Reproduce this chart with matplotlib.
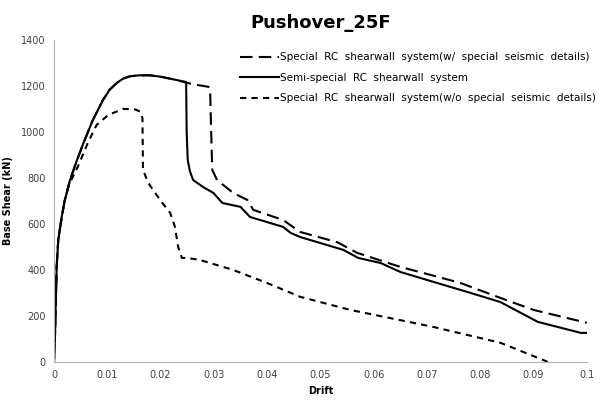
import numpy as np
import matplotlib
matplotlib.use('Agg')
from matplotlib import pyplot as plt

# drift / base shear
semi_x = [0, 0.0002, 0.0005, 0.0008, 0.00145, 0.002, 0.003, 0.0042, 0.0055, 0.0073, 0.0092,
          0.0105, 0.0118, 0.013, 0.0143, 0.016, 0.018, 0.02, 0.0225, 0.0248, 0.0249, 0.0251,
          0.0255, 0.0261, 0.028, 0.0299, 0.0316, 0.035, 0.0368, 0.043, 0.0444, 0.0462,
          0.0543, 0.0571, 0.0613, 0.065, 0.0712, 0.0776, 0.0838, 0.0908, 0.0989, 0.1]
semi_y = [0, 126, 413, 530, 630, 700, 790, 870, 950, 1052, 1139,
          1185, 1213, 1232, 1242, 1246, 1246, 1240, 1228, 1217, 1000, 878,
          830, 791, 760, 735, 691, 674, 630, 587, 561, 543,
          487, 452, 430, 391, 348, 304, 260, 174, 126, 126]

sp_x = [0, 0.0002, 0.0005, 0.0008, 0.00145, 0.002, 0.003, 0.0042, 0.0055, 0.0073, 0.0092,
        0.0105, 0.0118, 0.013, 0.0143, 0.016, 0.018, 0.02, 0.0225, 0.025, 0.0269, 0.029,
        0.0293, 0.0295, 0.0297, 0.0306, 0.0336, 0.0363, 0.0374, 0.043, 0.0462, 0.0532,
        0.0569, 0.065, 0.0707, 0.0763, 0.0838, 0.09, 0.1]
sp_y = [0, 126, 413, 530, 630, 700, 790, 870, 950, 1052, 1139,
        1185, 1213, 1232, 1242, 1246, 1246, 1240, 1228, 1213, 1204, 1196,
        1185, 1000, 835, 791, 735, 704, 661, 617, 565, 520,
        474, 413, 378, 343, 278, 226, 170]

wo_x = [0, 0.0002, 0.0005, 0.0008, 0.00145, 0.002, 0.0028, 0.0045, 0.0064, 0.008, 0.0102,
        0.013, 0.0152, 0.0162, 0.0166, 0.0167, 0.0177, 0.0199, 0.0218, 0.0227, 0.0233,
        0.024, 0.025, 0.0274, 0.0336, 0.04, 0.0462, 0.0556, 0.0712, 0.0838, 0.0927]
wo_y = [0, 126, 413, 530, 630, 700, 770, 850, 955, 1030, 1074,
        1100, 1098, 1088, 1060, 835, 778, 704, 648, 587, 500,
        452, 452, 443, 400, 343, 283, 226, 152, 83, 0]

labels = ['Special  RC  shearwall  system(w/  special  seismic  details)',
          'Semi-special  RC  shearwall  system',
          'Special  RC  shearwall  system(w/o  special  seismic  details)']

fig = plt.figure(figsize=(6, 4.03), dpi=100)
ax = fig.add_axes([0.09, 0.102, 0.888, 0.799])

ax.plot(sp_x, sp_y, color='black', lw=1.5, linestyle=(0, (6, 3)), label=labels[0])
ax.plot(semi_x, semi_y, color='black', lw=1.5, label=labels[1])
ax.plot(wo_x, wo_y, color='black', lw=1.5, linestyle=(0, (3, 2.5)), label=labels[2])

ax.set_xlim(0, 0.1)
ax.set_ylim(0, 1400)
ax.set_xticks(np.arange(0, 0.101, 0.01))
ax.set_xticklabels(['0', '0.01', '0.02', '0.03', '0.04', '0.05', '0.06', '0.07', '0.08', '0.09', '0.1'])
ax.set_yticks(range(0, 1401, 200))
for s in ['top', 'right']:
    ax.spines[s].set_visible(False)
for s in ['left', 'bottom']:
    ax.spines[s].set_color('#b0b0b0')
ax.tick_params(length=0, labelsize=7, colors='#404040', pad=6)
ax.set_xlabel('Drift', fontsize=7, fontweight='bold', labelpad=4)
ax.set_ylabel('Base Shear (kN)', fontsize=7, fontweight='bold', labelpad=6)
fig.suptitle('Pushover_25F', fontsize=13, fontweight='bold', x=0.535, y=0.965)

ax.legend(loc='upper right', bbox_to_anchor=(1.035, 0.99), frameon=False, fontsize=7.5,
          handlelength=3.8, handletextpad=0.1, labelspacing=1.0)

plt.savefig('out.png', dpi=100)
